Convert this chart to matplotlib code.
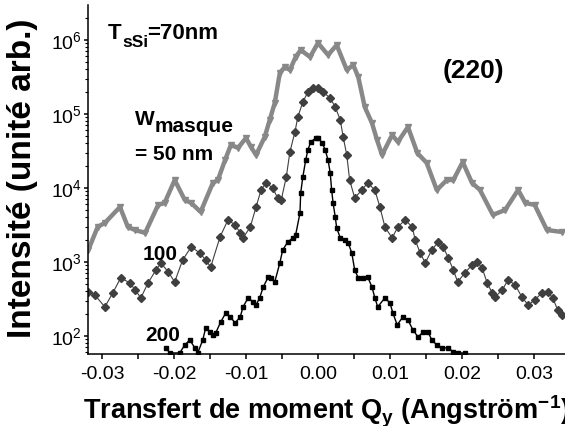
import numpy as np
import matplotlib
matplotlib.use("Agg")
import matplotlib.pyplot as plt
from matplotlib.ticker import MultipleLocator, FormatStrFormatter, LogLocator, NullFormatter

plt.rcParams['font.family'] = ['Liberation Sans', 'DejaVu Sans']
plt.rcParams['mathtext.fontset'] = 'custom'
plt.rcParams['mathtext.rm'] = 'Liberation Sans'
plt.rcParams['mathtext.bf'] = 'Liberation Sans:bold'
plt.rcParams['mathtext.it'] = 'Liberation Sans:italic'
plt.rcParams['axes.unicode_minus'] = False

# W_masque = 50 nm (grey triangles)
q50 = [-0.0319, -0.0306, -0.0296, -0.0275, -0.0264, -0.0254, -0.0240, -0.0222, -0.0213,
       -0.0199, -0.0185, -0.0176, -0.0163, -0.0146, -0.0139, -0.0129, -0.0121, -0.0111,
       -0.0100, -0.0093, -0.0086, -0.0074, -0.0067, -0.0060, -0.0053, -0.0046, -0.0039,
       -0.0031, -0.0024, -0.0011, 0.0000, 0.0014, 0.0026, 0.0040, 0.0049, 0.0056, 0.0065,
       0.0075, 0.0082, 0.0089, 0.0103, 0.0111, 0.0125, 0.0138, 0.0151, 0.0165, 0.0179,
       0.0188, 0.0201, 0.0214, 0.0225, 0.0243, 0.0260, 0.0278, 0.0288, 0.0301, 0.0318, 0.0339]
i50 = [1450, 2970, 3370, 5530, 2970, 2700, 2470, 5890, 6270,
       12800, 6890, 6270, 4740, 11700, 12800, 23900, 38100, 34800,
       47400, 35800, 27900, 48900, 83000, 141000, 358000, 432000, 394000,
       589000, 733000, 589000, 910000, 627000, 855000, 394000, 459000, 316000, 124000,
       75500, 44600, 27900, 52000, 41900, 66700, 29700, 21800, 9400, 12800,
       12800, 22400, 11700, 9400, 4320, 5050, 9400, 6270, 5890, 2700, 2540]

# W_masque = 100 nm (dark grey diamonds)
q100 = [-0.0319, -0.0310, -0.0296, -0.0285, -0.0274, -0.0261, -0.0254, -0.0246, -0.0236,
        -0.0225, -0.0218, -0.0208, -0.0199, -0.0188, -0.0176, -0.0164, -0.0156, -0.0149,
        -0.0136, -0.0125, -0.0115, -0.0108, -0.0104, -0.0094, -0.0086, -0.0079, -0.0072,
        -0.0063, -0.0056, -0.0051, -0.0044, -0.0039, -0.0032, -0.0028, -0.0021, -0.0014,
        -0.0007, 0.0000, 0.0007, 0.0017, 0.0024, 0.0031, 0.0035, 0.0040, 0.0044, 0.0051,
        0.0061, 0.0069, 0.0079, 0.0086, 0.0093, 0.0103, 0.0111, 0.0121, 0.0131, 0.0135,
        0.0142, 0.0149, 0.0158, 0.0167, 0.0174, 0.0181, 0.0188, 0.0194, 0.0204, 0.0214,
        0.0221, 0.0228, 0.0235, 0.0242, 0.0246, 0.0256, 0.0264, 0.0274, 0.0283, 0.0292,
        0.0301, 0.0311, 0.0319, 0.0326, 0.0333, 0.0339]
i100 = [394, 358, 247, 381, 608, 520, 419, 327, 520,
        780, 968, 733, 537, 1060, 1600, 1320, 1060, 855,
        2180, 3700, 3160, 2470, 2110, 2970, 5530, 9400, 11700,
        10000, 7330, 6890, 14100, 30600, 57100, 91000, 145000, 198000,
        224000, 224000, 198000, 164000, 124000, 83000, 48900, 27900, 12800, 7330,
        9400, 11700, 9400, 5530, 2970, 2110, 2970, 3700, 2970, 1980,
        1320, 968, 1450, 1860, 1600, 1130, 780, 537, 710, 911,
        1000, 830, 520, 381, 337, 419, 571, 489, 337, 262,
        306, 381, 394, 327, 224, 192]

# W_masque = 200 nm (black squares)
q200 = [-0.0211, -0.0206, -0.0192, -0.0185, -0.0178, -0.0171, -0.0167, -0.0160, -0.0156,
        -0.0150, -0.0146, -0.0142, -0.0135, -0.0128, -0.0122, -0.0115, -0.0108, -0.0104,
        -0.0097, -0.0090, -0.0086, -0.0081, -0.0076, -0.0069, -0.0065, -0.0060, -0.0053,
        -0.0049, -0.0042, -0.0035, -0.0031, -0.0025, -0.0024, -0.0021, -0.0017, -0.0014,
        -0.0010, -0.0003, 0.0000, 0.0006, 0.0010, 0.0014, 0.0017, 0.0019, 0.0021, 0.0024,
        0.0026, 0.0031, 0.0037, 0.0042, 0.0047, 0.0051, 0.0056, 0.0062, 0.0069, 0.0075,
        0.0079, 0.0083, 0.0093, 0.0100, 0.0104, 0.0110, 0.0118, 0.0125, 0.0132, 0.0139,
        0.0146, 0.0153, 0.0158, 0.0165, 0.0172, 0.0181, 0.0188, 0.0194, 0.0204]
i200 = [68.9, 58.9, 58.9, 75.5, 88.3, 68.9, 58.9, 88.3, 128,
        113, 103, 110, 155, 205, 181, 150, 181, 247,
        327, 288, 262, 327, 459, 627, 608, 537, 968,
        1450, 1860, 2110, 2320, 4590, 8550, 14100, 23900, 32700,
        41900, 47400, 47400, 40600, 32700, 23900, 16000, 9400, 6270, 4060,
        2880, 2110, 1980, 1810, 1320, 780, 608, 608, 627, 459,
        327, 247, 327, 279, 205, 141, 181, 164, 120, 96.8,
        113, 113, 88.3, 75.5, 68.9, 68.9, 60.8, 58.9, 58.9]

W, H = 565, 426
fig = plt.figure(figsize=(W / 100, H / 100), dpi=100)
ax = fig.add_axes([88 / W, 1 - 354 / H, 1 - 88 / W, 349 / H])

ax.plot(q50, i50, color='#888888', lw=3.2, marker='v', ms=5, mec='#888888', mfc='#888888')
ax.plot(q100, i100, color='#3f3f3f', lw=0.8, marker='D', ms=3.8, mec='#3f3f3f', mfc='#3f3f3f')
ax.plot(q200, i200, color='black', lw=1.0, marker='s', ms=3.4, mec='black', mfc='black')

ax.set_yscale('log')
ax.set_xlim(-0.03194, 0.03431)
ax.set_ylim(57, 2.97e6)

ax.spines['top'].set_visible(False)
ax.spines['right'].set_visible(False)
for s in ('left', 'bottom'):
    ax.spines[s].set_linewidth(1.1)

ax.xaxis.set_major_locator(MultipleLocator(0.01))
ax.xaxis.set_minor_locator(MultipleLocator(0.005))
ax.xaxis.set_major_formatter(FormatStrFormatter('%.2f'))
ax.yaxis.set_major_locator(LogLocator(base=10, numticks=10))
ax.yaxis.set_minor_locator(LogLocator(base=10, subs=np.arange(2, 10), numticks=20))
ax.yaxis.set_minor_formatter(NullFormatter())

ax.tick_params(axis='x', which='both', direction='out', length=3.8, width=1.1,
               labelsize=14, pad=5)
ax.tick_params(axis='y', which='major', direction='out', length=3.2, width=1.1,
               labelsize=14, pad=1)
ax.tick_params(axis='y', which='minor', direction='out', length=2.0, width=0.8)

ax.set_xlabel(r'Transfert de moment Q$_\mathbf{y}$ (Angström$^\mathbf{-1}$)',
              fontsize=19.5, fontweight='bold')
ax.xaxis.label.set_va('baseline')
ax.xaxis.set_label_coords((326 - 88) / 477, (354 - 420) / 349)
ax.set_ylabel('Intensité (unité arb.)', fontsize=24, fontweight='bold')
ax.yaxis.label.set_va('center')
ax.yaxis.set_label_coords((23 - 88) / 477, (354 - 178) / 349)


def label(px, py, s, size):
    fig.text(px / W, 1 - py / H, s, fontsize=size, fontweight='bold',
             ha='left', va='baseline')


label(108, 39, 'T', 16)
label(122, 47, 'sSi', 12.5)
label(147, 39, '=70nm', 16)
label(135, 125, 'W', 15)
label(155, 132, 'masque', 15)
label(135, 160, '= 50 nm', 15)
label(443, 78, '(220)', 19)
label(143, 260, '100', 15)
label(145, 341, '200', 15)

fig.savefig('out.png', dpi=100)
